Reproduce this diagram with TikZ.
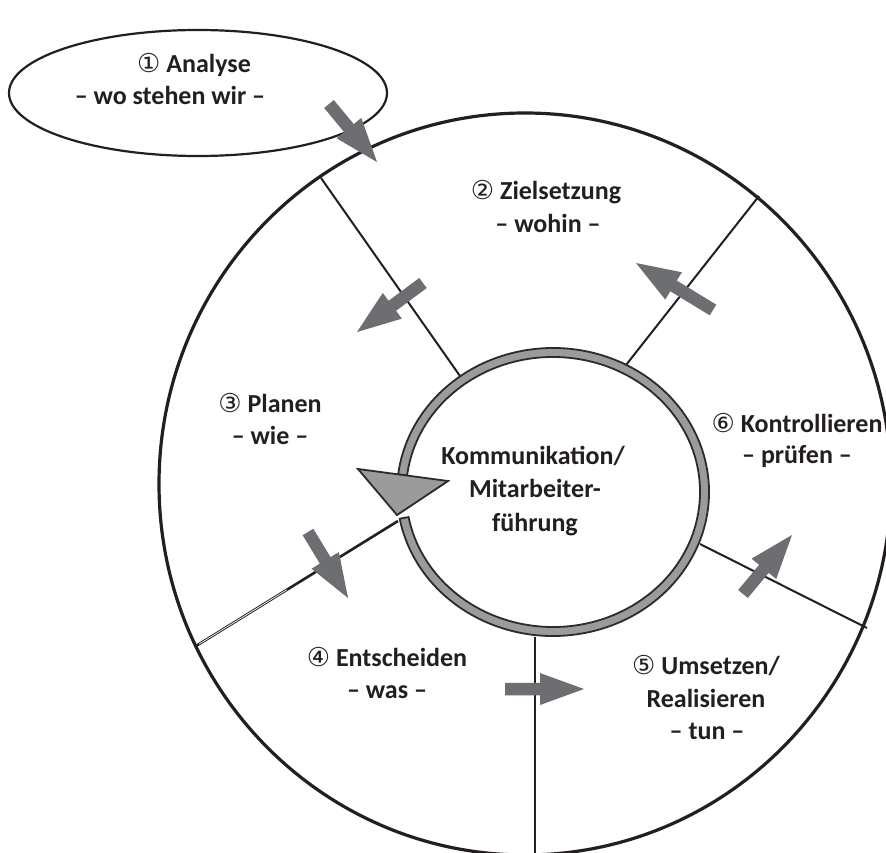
\documentclass[tikz,border=0pt]{standalone}
\usepackage{fontspec}
\setmainfont{Carlito}
\newfontfamily\circfont{DejaVu Sans}
\usetikzlibrary{calc}

\definecolor{ink}{HTML}{231F20}
\definecolor{arrowgrey}{HTML}{6D6E71}
\definecolor{ringgrey}{HTML}{9B9B9B}
\definecolor{ringedge}{HTML}{2B2B2B}

% circled step number, set in a lighter face than the labels
\newcommand\stepno[1]{{\circfont\mdseries\fontsize{26}{26}\selectfont #1}}

% block arrow from (#1-t) to (#1-p)
\newcommand\blockarrowfrom[1]{%
  \coordinate (#1-h) at ($(#1-p)!44pt!(#1-t)$);
  \fill[arrowgrey]
    ($(#1-t)!6.25pt!90:(#1-p)$) --
    ($(#1-h)!6.25pt!90:(#1-p)$) --
    ($(#1-h)!16pt!90:(#1-p)$) --
    (#1-p) --
    ($(#1-h)!16pt!-90:(#1-p)$) --
    ($(#1-h)!6.25pt!-90:(#1-p)$) --
    ($(#1-t)!6.25pt!-90:(#1-p)$) -- cycle;}

\begin{document}
\begin{tikzpicture}[x=1pt,y=1pt,
  lbl/.style={anchor=base, inner sep=0pt, text=ink,
              font=\fontsize{26}{33}\selectfont\bfseries},
  rim/.style={draw=ink, line width=3.2pt},
  spoke/.style={draw=ink, line width=2pt},
  ringband/.style={fill=ringgrey, draw=ringedge, line width=1.8pt, line join=miter}]

\clip (0,0) rectangle (886,-853);
\fill[white] (0,0) rectangle (886,-853);

\coordinate (wheel) at (525,-484);
\coordinate (hub) at (553,-492);

% outer wheel
\draw[rim] (wheel) ellipse [x radius=366, y radius=371];

% spokes between the phases
\coordinate (sa1) at (460,-376); \coordinate (sa2) at (321,-178);
\coordinate (sb1) at (626,-365); \coordinate (sb2) at (759,-196);
\coordinate (sc1) at (700,-544); \coordinate (sc2) at (867,-628);
\coordinate (sd1) at (535,-637); \coordinate (sd2) at (535,-860);
\coordinate (se1) at (398,-521); \coordinate (se2) at (196,-646);
\draw[spoke] (sa1) -- (sa2);
\draw[spoke] (sb1) -- (sb2);
\draw[spoke] (sc1) -- (sc2);
\draw[spoke] (sd1) -- (sd2);
\draw[spoke, line width=2.6pt] (se1) -- (se2);
\draw[white, line width=0.7pt] ($(se1)!0.55!(se2)$) -- ($(se1)!0.985!(se2)$);

% central ring with its arrow head
\filldraw[ringband]
  ($(hub)+(190.7:156 and 144)$)
  arc[start angle=190.7, end angle=533, x radius=156, y radius=144]
  -- ($(hub)+(533:147 and 135)$)
  arc[start angle=533, end angle=190.7, x radius=147, y radius=135]
  -- cycle;
\coordinate (rh1) at (358,-469);
\coordinate (rh2) at (448,-481);
\coordinate (rh3) at (397,-515);
\filldraw[ringband] (rh1) -- (rh2) -- (rh3) -- cycle;

% starting bubble
\draw[draw=ink, line width=2.2pt, fill=white] (198,-93) ellipse [x radius=189, y radius=63];

% flow arrows between the phases
\coordinate (a1-t) at (329,-104); \coordinate (a1-p) at (377,-162);
\coordinate (a2-t) at (423,-283); \coordinate (a2-p) at (357,-332);
\coordinate (a3-t) at (713,-310); \coordinate (a3-p) at (636,-263);
\coordinate (a4-t) at (308,-532); \coordinate (a4-p) at (348,-598);
\coordinate (a5-t) at (505,-689); \coordinate (a5-p) at (584,-689);
\coordinate (a6-t) at (743,-594); \coordinate (a6-p) at (792,-535);
\blockarrowfrom{a1}
\blockarrowfrom{a2}
\blockarrowfrom{a3}
\blockarrowfrom{a4}
\blockarrowfrom{a5}
\blockarrowfrom{a6}

% labels
\node[lbl] (an1) at (194,-73)  {\stepno{①} Analyse};
\node[lbl] (an2) at (170,-105) {– wo stehen wir –};
\node[lbl] (zs1) at (546,-200) {\stepno{②} Zielsetzung};
\node[lbl] (zs2) at (548,-233) {– wohin –};
\node[lbl] (pl1) at (270,-412) {\stepno{③} Planen};
\node[lbl] (pl2) at (270,-444) {– wie –};
\node[lbl] (ko1) at (533,-464) {Kommunikation/};
\node[lbl] (ko2) at (535,-497) {Mitarbeiter-};
\node[lbl] (ko3) at (535,-531) {führung};
\node[lbl] (en1) at (387,-666) {\stepno{④} Entscheiden};
\node[lbl] (en2) at (387,-698) {– was –};
\node[lbl] (um1) at (706,-674) {\stepno{⑤} Umsetzen/};
\node[lbl] (um2) at (706,-707) {Realisieren};
\node[lbl] (um3) at (707,-739) {– tun –};
\node[lbl] (kt1) at (797,-432) {\stepno{⑥} Kontrollieren};
\node[lbl] (kt2) at (797,-463) {– prüfen –};
\end{tikzpicture}
\end{document}
